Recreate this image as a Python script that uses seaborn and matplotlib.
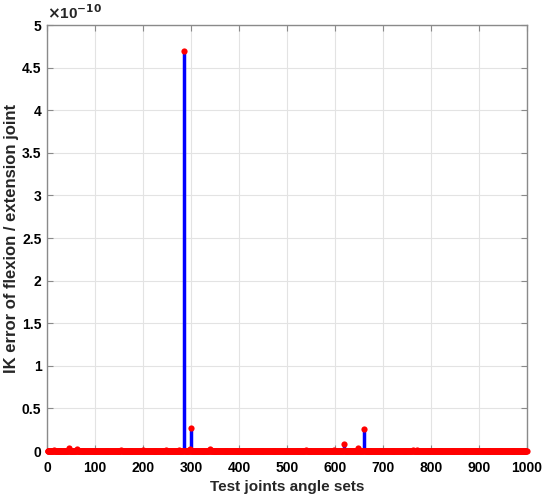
import numpy as np
import pandas as pd
import matplotlib
matplotlib.use("Agg")
import matplotlib.pyplot as plt
import seaborn as sns

# Data (values in units of 1e-10); points not listed are ~0
n_sets = 1000
spike_idx = [15, 45, 62, 155, 200, 248, 275, 285, 298, 300, 340, 540, 598, 618, 648, 660, 762, 770]
spike_val = [0.012, 0.03, 0.025, 0.015, 0.012, 0.01, 0.012, 4.70, 0.02, 0.27, 0.02, 0.01, 0.012, 0.085, 0.03, 0.255, 0.01, 0.01]

x_ticks = list(range(0, 1001, 100))
y_ticks = [0, 0.5, 1, 1.5, 2, 2.5, 3, 3.5, 4, 4.5, 5]
y_ticklabels = ["0", "0.5", "1", "1.5", "2", "2.5", "3", "3.5", "4", "4.5", "5"]

idx = np.arange(1, n_sets + 1)
vals = np.zeros(n_sets)
for i, v in zip(spike_idx, spike_val):
    vals[i - 1] = v
df = pd.DataFrame({"set": idx, "err": vals})

sns.set_style("white")
plt.rcParams["font.family"] = ["Liberation Sans", "DejaVu Sans"]
plt.rcParams["font.weight"] = "bold"

fig = plt.figure(figsize=(5.5, 5.01), dpi=100)
ax = fig.add_axes([0.0855, 0.0998, 0.8725, 0.8502])

ax.vlines(df["set"], 0, df["err"], color="#0000ff", linewidth=2.5, zorder=2)
sns.scatterplot(data=df, x="set", y="err", color="#ff0000", s=20, edgecolor="#ff0000",
                linewidth=0, ax=ax, zorder=3, clip_on=False)

ax.set_xlim(0, 1000)
ax.set_ylim(0, 5)
ax.set_xticks(x_ticks)
ax.set_yticks(y_ticks)
ax.set_yticklabels(y_ticklabels)
ax.grid(True, color="#e3e3e3", linewidth=0.8)
ax.set_axisbelow(True)
for s in ax.spines.values():
    s.set_visible(True)
    s.set_color("#8a8a8a")
    s.set_linewidth(1.0)
ax.tick_params(direction="in", length=4, width=0.8, color="#8a8a8a",
               labelsize=10, labelcolor="black", top=True, right=True,
               bottom=True, left=True)
ax.tick_params(axis="y", pad=4)
ax.tick_params(axis="x", pad=7)
for lab in ax.get_xticklabels() + ax.get_yticklabels():
    lab.set_fontweight("bold")
ax.set_xlabel("Test joints angle sets", fontsize=11, fontweight="bold", labelpad=4)
ax.set_ylabel("IK error of flexion / extension joint", fontsize=12, fontweight="bold", labelpad=2)
ax.text(0.0, 1.006, r"$\times$10$^{-10}$", transform=ax.transAxes, fontsize=11,
        fontweight="bold", ha="left", va="bottom")

fig.savefig("out.png", dpi=100)
